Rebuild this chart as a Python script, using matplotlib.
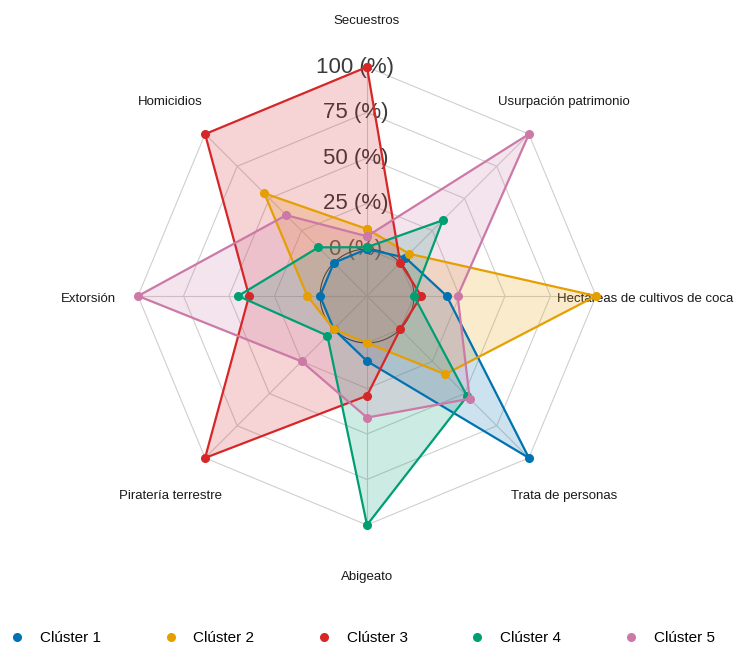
import numpy as np
import matplotlib
matplotlib.use("Agg")
import matplotlib.pyplot as plt
from matplotlib.lines import Line2D

plt.rcParams['font.family'] = ['Liberation Sans', 'DejaVu Sans']

categories = ["Secuestros", "Usurpación patrimonio", "Hectáreas de cultivos de coca",
              "Trata de personas", "Abigeato", "Piratería terrestre", "Extorsión", "Homicidios"]
series_names = ["Clúster 1", "Clúster 2", "Clúster 3", "Clúster 4", "Clúster 5"]
cluster1 = [0, 4, 18, 100, 10, 0, 0, 0]
cluster2 = [11, 7, 100, 35, 0, 0, 7, 54]
cluster3 = [100, 0, 4, 0, 29, 100, 39, 100]
cluster4 = [1, 33, 0, 52, 100, 5, 45, 12]
cluster5 = [7, 100, 24, 54, 41, 25, 100, 37]
grid_levels = [0, 25, 50, 75, 100]
grid_labels = ["0 (%)", "25 (%)", "50 (%)", "75 (%)", "100 (%)"]

series = [cluster1, cluster2, cluster3, cluster4, cluster5]
colors = ["#0072B2", "#E69F00", "#D62728", "#009E73", "#CC79A7"]

W, H = 739, 647
fig = plt.figure(figsize=(W / 100, H / 100), dpi=100)
cx, cy, R = 367, 296, 229
ax = fig.add_axes([(cx - R) / W, (H - cy - R) / H, 2 * R / W, 2 * R / H], projection='polar')
ax.set_theta_zero_location('N')
ax.set_theta_direction(-1)
rorig = -25.8
ax.set_ylim(0, 100)
ax.set_rorigin(rorig)
ax.grid(False)
ax.set_xticks([])
ax.set_yticks([])
for sp in ax.spines.values():
    sp.set_visible(False)
ax.patch.set_alpha(0)

n = len(categories)
theta = np.linspace(0, 2 * np.pi, n, endpoint=False)
theta_c = np.append(theta, theta[0])

# grid octagons
for lv in grid_levels:
    ax.plot(theta_c, [lv] * (n + 1), color="#cfcfcf", lw=0.8, zorder=1, clip_on=False)
for t in theta:
    ax.plot([t, t], [rorig, 100], color="#cfcfcf", lw=0.8, zorder=1, clip_on=False)

# grid value labels
for lv, lab in zip(grid_levels, grid_labels):
    ax.annotate(lab, xy=(0, lv), xytext=(-8.3, 0), textcoords='offset points',
                ha='center', va='center', fontsize=16, color="#3a3a3a", zorder=2,
                annotation_clip=False)

# category labels
for t, c in zip(theta, categories):
    ax.annotate(c, xy=(t, 127), xytext=(0, -2.2), textcoords='offset points',
                ha='center', va='center', fontsize=9.5, color="#1a1a1a", zorder=2,
                annotation_clip=False)

for vals, col in zip(series, colors):
    v = np.append(vals, vals[0])
    ax.fill(theta_c, v, color=col, alpha=0.2, lw=0, zorder=3, clip_on=False)
    ax.plot(theta_c, v, color=col, lw=1.6, marker='o', markersize=5.5, zorder=4, clip_on=False)

handles = [Line2D([], [], marker='o', color=c, linestyle='None', markersize=5.5) for c in colors]
fig.legend(handles, series_names, loc='center', bbox_to_anchor=(0.49, 1 - 638 / H), ncol=5,
           frameon=False, fontsize=11, columnspacing=4.05, handletextpad=1.0, handlelength=1.0)

fig.savefig("out.png", dpi=100)
